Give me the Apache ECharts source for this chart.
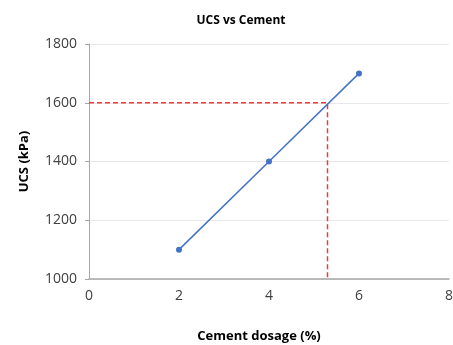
<!DOCTYPE html>
<html><head><meta charset="utf-8">
<script src="https://cdn.jsdelivr.net/npm/echarts@6/dist/echarts.min.js"></script>
<style>html,body{margin:0;padding:0;background:#fff}#c{width:453px;height:345px}</style>
</head><body><div id="c"></div>
<script>
const cementDosage = [2, 4, 6];
const ucsValues = [1100, 1400, 1700];
const refLineX = [0, 5.3, 5.3];
const refLineY = [1600, 1600, 1000];
const xTicks = {min: 0, max: 8, interval: 2};
const yTicks = {min: 1000, max: 1800, interval: 200};

const chart = echarts.init(document.getElementById('c'), null, {renderer: 'canvas'});
const font = '"Open Sans", "Liberation Sans", sans-serif';
chart.setOption({
  animation: false,
  title: {text: 'UCS vs Cement', left: 236, top: 10, textAlign: 'center',
    textStyle: {fontFamily: font, fontSize: 12, fontWeight: 'bold', color: '#000'}},
  grid: {left: 89, right: 4, top: 44, bottom: 66, containLabel: false, outerBoundsMode: 'none'},
  xAxis: {type: 'value', min: xTicks.min, max: xTicks.max, interval: xTicks.interval,
    name: 'Cement dosage (%)', nameLocation: 'middle', nameGap: 51,
    nameTextStyle: {fontFamily: font, fontSize: 13, fontWeight: 'bold', color: '#000', padding: [0,0,0,-20]},
    axisLine: {show: true, lineStyle: {color: '#a6a6a6', width: 1.5}},
    axisTick: {show: false},
    splitLine: {show: false},
    axisLabel: {fontFamily: font, fontSize: 14, color: '#404040', margin: 10}},
  yAxis: {type: 'value', min: yTicks.min, max: yTicks.max, interval: yTicks.interval,
    name: 'UCS (kPa)', nameLocation: 'middle', nameGap: 58, nameRotate: 90,
    nameTextStyle: {fontFamily: font, fontSize: 13, fontWeight: 'bold', color: '#000'},
    axisLine: {show: true, lineStyle: {color: '#a6a6a6', width: 1}},
    axisTick: {show: true, length: 4, lineStyle: {color: '#a6a6a6'}},
    splitLine: {show: true, lineStyle: {color: '#e8e8e8', width: 1}},
    axisLabel: {fontFamily: font, fontSize: 14, color: '#404040', margin: 12,
      formatter: v => String(v)}},
  series: [
    {type: 'line', data: refLineX.map((x, i) => [x, refLineY[i]]), symbol: 'none',
     lineStyle: {color: '#f03838', width: 1.5, type: [5, 3]}, z: 3},
    {type: 'line', data: cementDosage.map((x, i) => [x, ucsValues[i]]),
     symbol: 'circle', symbolSize: 6,
     lineStyle: {color: '#4472C4', width: 1.5}, itemStyle: {color: '#4472C4'}, z: 4}
  ]
});
</script></body></html>
